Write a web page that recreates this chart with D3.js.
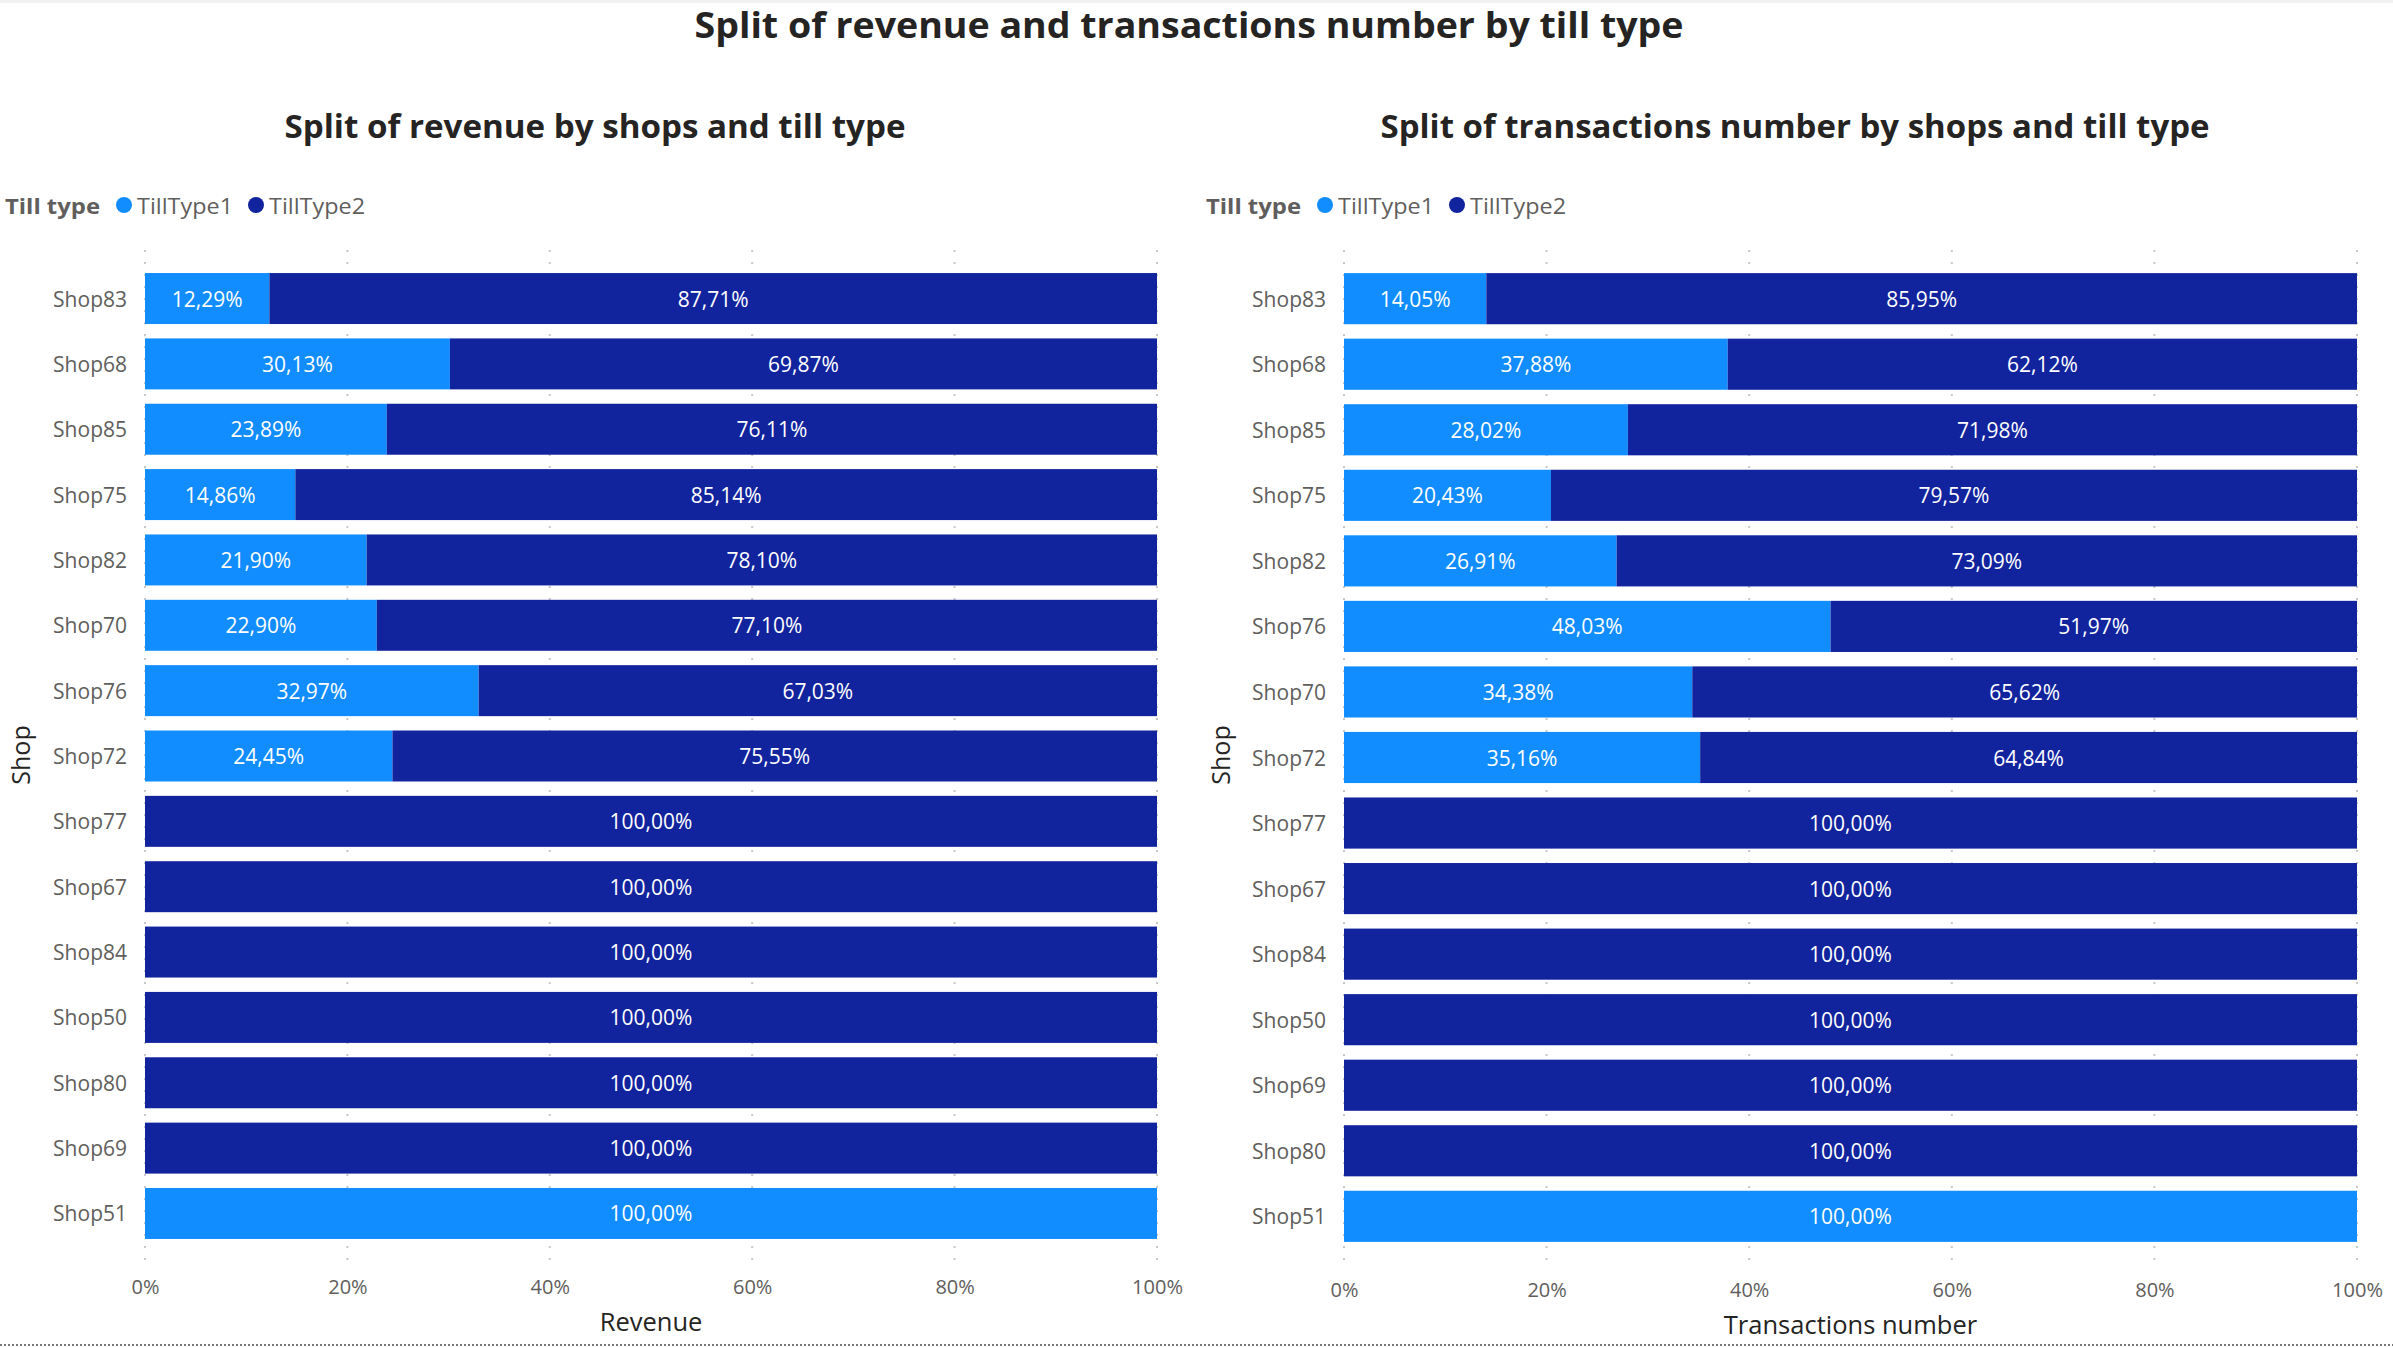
<!DOCTYPE html>
<html>
<head>
<meta charset="utf-8">
<script src="https://cdn.jsdelivr.net/npm/d3@7"></script>
<style>
  html, body { margin: 0; padding: 0; background: #fff; }
  svg text { font-family: "Segoe UI", "Open Sans", "Noto Sans", sans-serif; }
</style>
</head>
<body>
<svg id="chart" width="2393" height="1347"></svg>
<script>
// ---- data ----
const seriesNames = ["TillType1", "TillType2"];
const revenueShops = ["Shop83","Shop68","Shop85","Shop75","Shop82","Shop70","Shop76","Shop72","Shop77","Shop67","Shop84","Shop50","Shop80","Shop69","Shop51"];
const revenueTill1 = [12.29, 30.13, 23.89, 14.86, 21.90, 22.90, 32.97, 24.45, 0, 0, 0, 0, 0, 0, 100];
const revenueTill2 = [87.71, 69.87, 76.11, 85.14, 78.10, 77.10, 67.03, 75.55, 100, 100, 100, 100, 100, 100, 0];

const txShops = ["Shop83","Shop68","Shop85","Shop75","Shop82","Shop76","Shop70","Shop72","Shop77","Shop67","Shop84","Shop50","Shop69","Shop80","Shop51"];
const txTill1 = [14.05, 37.88, 28.02, 20.43, 26.91, 48.03, 34.38, 35.16, 0, 0, 0, 0, 0, 0, 100];
const txTill2 = [85.95, 62.12, 71.98, 79.57, 73.09, 51.97, 65.62, 64.84, 100, 100, 100, 100, 100, 100, 0];

const xTicks = [0, 20, 40, 60, 80, 100];

// ---- styles ----
const colors = { TillType1: "#118DFF", TillType2: "#12239E" };
const svg = d3.select("#chart");

// top faint border
svg.append("rect").attr("x", 0).attr("y", 0).attr("width", 2393).attr("height", 3).attr("fill", "#f0f0f0");

// main title
svg.append("text")
  .attr("x", 1189).attr("y", 24)
  .attr("text-anchor", "middle").attr("dominant-baseline", "central")
  .attr("font-size", 36).attr("font-weight", 700).attr("fill", "#252423")
  .attr("textLength", 989).attr("lengthAdjust", "spacingAndGlyphs")
  .text("Split of revenue and transactions number by till type");

// bottom dotted separator
svg.append("line")
  .attr("x1", 0).attr("x2", 2393).attr("y1", 1345).attr("y2", 1345)
  .attr("stroke", "#777").attr("stroke-width", 2).attr("stroke-dasharray", "2,2");

function fmt(v) {
  return v.toFixed(2).replace(".", ",") + "%";
}

function drawChart(cfg) {
  const g = svg.append("g");
  // subtitle
  g.append("text")
    .attr("x", cfg.titleX).attr("y", 125)
    .attr("text-anchor", "middle").attr("dominant-baseline", "central")
    .attr("font-size", 32).attr("font-weight", 700).attr("fill", "#252423")
    .attr("textLength", cfg.titleW).attr("lengthAdjust", "spacingAndGlyphs")
    .text(cfg.title);

  // legend
  const lg = g.append("g").attr("transform", `translate(${cfg.legendX},205)`);
  lg.append("text").attr("x", 0).attr("y", 0).attr("dominant-baseline", "central")
    .attr("font-size", 22).attr("font-weight", 700).attr("fill", "#605E5C")
    .attr("textLength", 95).attr("lengthAdjust", "spacingAndGlyphs")
    .text("Till type");
  const legOffsets = [[119, 132], [251, 264]];
  seriesNames.forEach((s, i) => {
    lg.append("circle").attr("cx", legOffsets[i][0]).attr("cy", 0).attr("r", 8).attr("fill", colors[s]);
    lg.append("text").attr("x", legOffsets[i][1]).attr("y", 0).attr("dominant-baseline", "central")
      .attr("font-size", 22).attr("fill", "#605E5C")
      .attr("textLength", 96).attr("lengthAdjust", "spacingAndGlyphs")
      .text(s);
  });

  const x = d3.scaleLinear().domain([0, 100]).range([cfg.x0, cfg.x1]);
  const y = d3.scaleBand().domain(cfg.shops).range([250.5, cfg.yEnd]).paddingInner(0.22).paddingOuter(0.345);

  // gridlines
  g.append("g").selectAll("line").data(xTicks).join("line")
    .attr("x1", d => x(d)).attr("x2", d => x(d))
    .attr("y1", 250).attr("y2", cfg.yEnd + 3)
    .attr("stroke", "#c8c8c8").attr("stroke-width", 2).attr("stroke-dasharray", "2,10");

  // x axis tick labels
  const xAxis = d3.axisBottom(x).tickValues(xTicks).tickFormat(d => d + "%").tickSize(0).tickPadding(0);
  const ax = g.append("g").attr("transform", `translate(0,${cfg.tickY})`).call(xAxis);
  ax.select(".domain").remove();
  ax.selectAll("text").attr("font-size", 20).attr("fill", "#605E5C")
    .attr("dy", null).attr("dominant-baseline", "central")
    .style("font-family", '"Segoe UI", "Open Sans", sans-serif');

  // y axis labels
  const yAxis = d3.axisLeft(y).tickSize(0).tickPadding(0);
  const ay = g.append("g").attr("transform", `translate(${cfg.x0 - 18},0)`).call(yAxis);
  ay.select(".domain").remove();
  ay.selectAll("text").attr("font-size", 21).attr("fill", "#605E5C")
    .attr("dy", null).attr("dominant-baseline", "central")
    .style("font-family", '"Segoe UI", "Open Sans", sans-serif');

  // stacked bars
  const rows = cfg.shops.map((s, i) => ({ shop: s, TillType1: cfg.t1[i], TillType2: cfg.t2[i] }));
  const stacked = d3.stack().keys(seriesNames)(rows);
  stacked.forEach(layer => {
    const key = layer.key;
    const lgp = g.append("g");
    lgp.selectAll("rect").data(layer.filter(d => d[1] - d[0] > 0)).join("rect")
      .attr("x", d => x(d[0]))
      .attr("y", d => y(d.data.shop))
      .attr("width", d => x(d[1]) - x(d[0]))
      .attr("height", y.bandwidth())
      .attr("fill", colors[key]);
    lgp.selectAll("text").data(layer.filter(d => d[1] - d[0] > 0)).join("text")
      .attr("x", d => (x(d[0]) + x(d[1])) / 2)
      .attr("y", d => y(d.data.shop) + y.bandwidth() / 2)
      .attr("text-anchor", "middle").attr("dominant-baseline", "central")
      .attr("font-size", 21).attr("fill", "#ffffff")
      .text(d => fmt(d.data[key]));
  });

  // axis titles
  g.append("text")
    .attr("x", (cfg.x0 + cfg.x1) / 2).attr("y", cfg.titleY)
    .attr("text-anchor", "middle").attr("dominant-baseline", "central")
    .attr("font-size", 25.5).attr("fill", "#252423")
    .text(cfg.xTitle);
  g.append("text")
    .attr("transform", `translate(${cfg.yTitleX},755) rotate(-90)`)
    .attr("text-anchor", "middle").attr("dominant-baseline", "central")
    .attr("font-size", 25).attr("fill", "#252423")
    .text("Shop");
}

drawChart({
  title: "Split of revenue by shops and till type", titleX: 595, titleW: 621,
  legendX: 5, x0: 145, x1: 1157, yTitleX: 20, yEnd: 1261.5, tickY: 1286, titleY: 1321,
  shops: revenueShops, t1: revenueTill1, t2: revenueTill2, xTitle: "Revenue"
});
drawChart({
  title: "Split of transactions number by shops and till type", titleX: 1795, titleW: 829,
  legendX: 1206, x0: 1344, x1: 2357, yTitleX: 1220, yEnd: 1264.5, tickY: 1289, titleY: 1324,
  shops: txShops, t1: txTill1, t2: txTill2, xTitle: "Transactions number"
});
</script>
</body>
</html>
